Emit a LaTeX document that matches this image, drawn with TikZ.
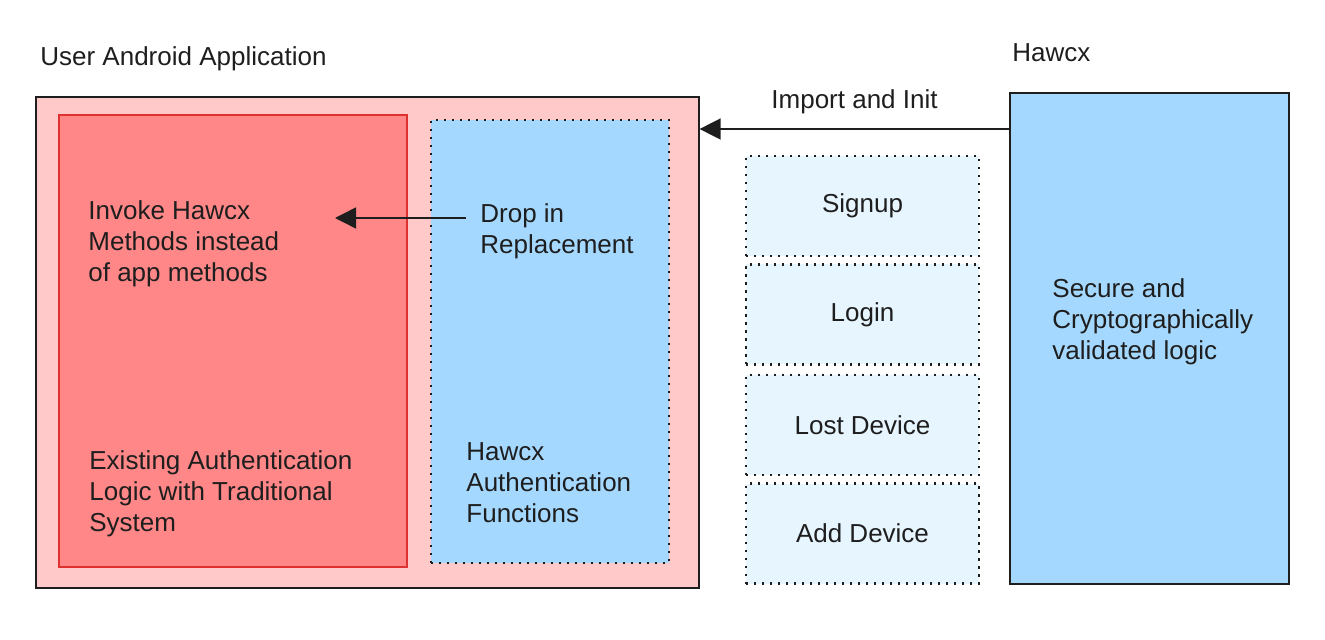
\documentclass[tikz,border=0pt]{standalone}
\usepackage{fontspec}
\setmainfont{Liberation Sans}
\usetikzlibrary{arrows.meta}
\definecolor{ink}{HTML}{1E1E1E}
\definecolor{appbg}{HTML}{FFC9C9}
\definecolor{legacy}{HTML}{FF8787}
\definecolor{legacyline}{HTML}{E03131}
\definecolor{hawcxblue}{HTML}{A5D8FF}
\definecolor{funcblue}{HTML}{E7F5FF}
\begin{document}
\begin{tikzpicture}[x=0.5pt,y=-0.5pt,
  font=\fontsize{13}{15.5}\selectfont, text=ink,
  box/.style={draw=ink, line width=0.6pt, inner sep=0pt},
  dotbox/.style={draw=ink, line width=1.2pt, dash pattern=on 1.2pt off 2.8pt, inner sep=0pt},
  txt/.style={anchor=north west, align=left, inner sep=0pt},
  arr/.style={draw=ink, line width=0.75pt, -{Triangle[length=10.5pt,width=10.5pt]}}]
\useasboundingbox (0,0) rectangle (1325,640);
\node[anchor=base west, inner sep=0pt] (apptitle) at (40,66) {User Android Application};
\node[anchor=base west, inner sep=0pt] (hawcxtitle) at (1012,62) {Hawcx};
\node[box, fill=appbg, minimum width=331.5pt, minimum height=245.5pt] (app) at (367.5,342.5) {};
\node[box, draw=legacyline, fill=legacy, minimum width=174pt, minimum height=226pt] (legacy) at (233,341) {};
\node[dotbox, fill=hawcxblue, minimum width=119pt, minimum height=221.5pt] (sdk) at (550,341.5) {};
\node[box, fill=hawcxblue, minimum width=139.5pt, minimum height=245.5pt] (hawcx) at (1149.5,338.5) {};
\node[dotbox, fill=funcblue, minimum width=116.5pt, minimum height=50pt] (signup) at (862.5,206) {Signup};
\node[dotbox, fill=funcblue, minimum width=116.5pt, minimum height=50pt] (login) at (862.5,314.5) {Login};
\node[dotbox, fill=funcblue, minimum width=116.5pt, minimum height=50pt] (lost) at (862.5,425) {Lost Device};
\node[dotbox, fill=funcblue, minimum width=116.5pt, minimum height=50pt] (add) at (862.5,533.5) {Add Device};
\node[txt] (invoke) at (88,200) {Invoke Hawcx\\Methods instead\\of app methods};
\node[txt] (existing) at (89,450) {Existing Authentication\\Logic with Traditional\\System};
\node[txt] (drop) at (480,203) {Drop in\\Replacement};
\node[txt] (functions) at (466,442) {Hawcx\\Authentication\\Functions};
\node[txt] (secure) at (1052,278) {Secure and\\Cryptographically\\validated logic};
\coordinate (initrow) at (0,129);
\coordinate (dropout) at (466,218);
\coordinate (dropin) at (335,218);
\draw[arr] (hawcx.west |- initrow) -- node[midway, above=4pt] {Import and Init} (app.east |- initrow);
\draw[arr] (dropout) -- (dropin);
\end{tikzpicture}
\end{document}
